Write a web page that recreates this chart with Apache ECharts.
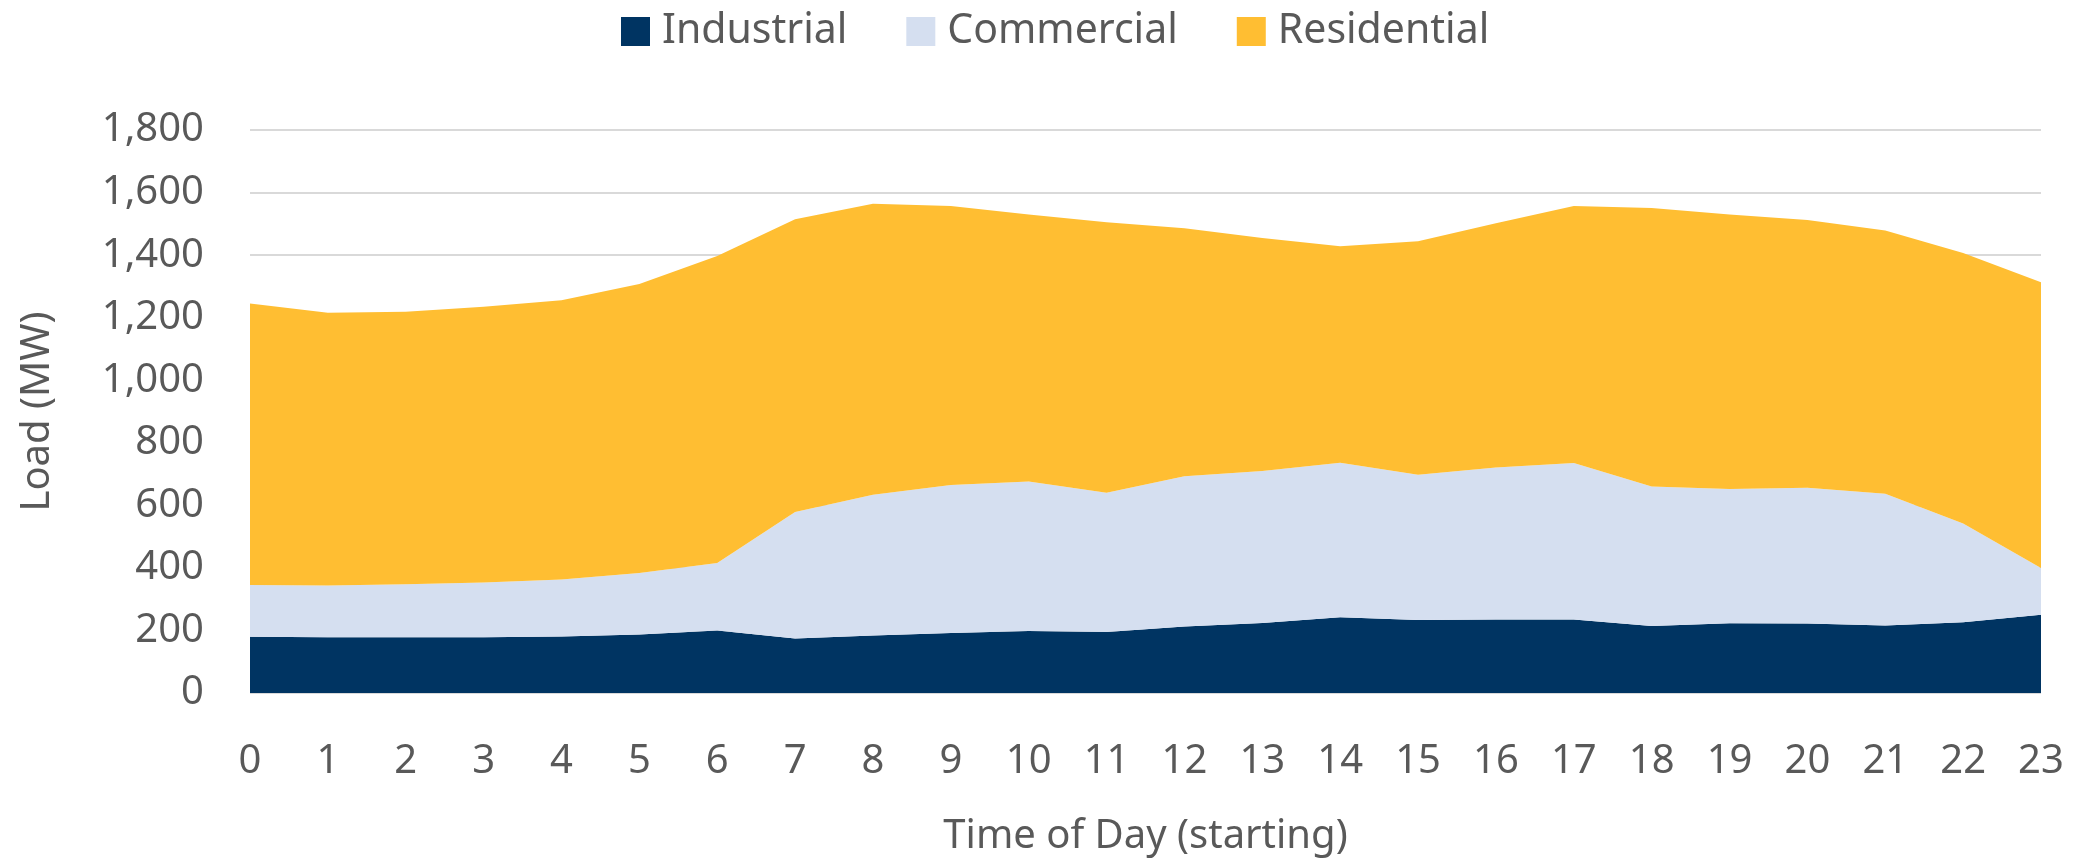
<!DOCTYPE html>
<html>
<head>
<meta charset="utf-8">
<script src="https://cdn.jsdelivr.net/npm/echarts@6/dist/echarts.min.js"></script>
<style>
  html, body { margin: 0; padding: 0; background: #fff; }
  #chart { width: 2077px; height: 862px; }
</style>
</head>
<body>
<div id="chart"></div>
<script>
// hours 0..23
var hours = ['0','1','2','3','4','5','6','7','8','9','10','11','12','13','14','15','16','17','18','19','20','21','22','23'];

// load per sector (MW), stacked
var industrial  = [180,178,178,178,181,187,200,174,184,192,198,195,213,224,242,233,235,235,214,223,222,216,226,250];
var commercial  = [165,166,170,175,182,197,216,405,450,473,478,445,480,486,494,465,486,500,446,429,434,421,316,150];
var residential = [900,872,871,882,893,924,981,936,930,892,854,865,793,745,692,746,781,822,891,878,856,842,865,913];

var yTicks = [0, 200, 400, 600, 800, 1000, 1200, 1400, 1600, 1800];

var textColor = '#595959';
var font = 'Noto Sans';

function area(name, data, color) {
  return {
    name: name,
    type: 'line',
    stack: 'load',
    data: data,
    symbol: 'none',
    lineStyle: { width: 0 },
    areaStyle: { color: color, opacity: 1 },
    itemStyle: { color: color }
  };
}

var chart = echarts.init(document.getElementById('chart'));
chart.setOption({
  animation: false,
  textStyle: { fontFamily: font },
  legend: {
    top: 6,
    left: 616,
    itemWidth: 29,
    itemHeight: 29,
    itemGap: 59,
    icon: 'rect',
    textStyle: { fontSize: 41, color: textColor, fontFamily: font, padding: [0, 0, 0, 7] }
  },
  grid: { left: 250, right: 36, top: 130, bottom: 160 },
  xAxis: {
    type: 'category',
    data: hours,
    boundaryGap: false,
    name: 'Time of Day (starting)',
    nameLocation: 'middle',
    nameGap: 124,
    nameTextStyle: { fontSize: 40, color: textColor, fontFamily: font },
    axisLine: { show: false },
    axisTick: { show: false },
    axisLabel: { fontSize: 40, color: textColor, margin: 49, fontFamily: font }
  },
  yAxis: {
    type: 'value',
    min: 0,
    max: 1800,
    interval: 200,
    name: 'Load (MW)',
    nameLocation: 'middle',
    nameGap: 192,
    nameTextStyle: { fontSize: 40, color: textColor, fontFamily: font },
    axisLine: { show: false },
    axisTick: { show: false },
    axisLabel: {
      fontSize: 40, color: textColor, margin: 46, fontFamily: font,
      formatter: function (v) { return yTicks.indexOf(v) >= 0 ? v.toLocaleString('en-US') : ''; }
    },
    splitLine: { lineStyle: { color: '#d9d9d9', width: 2 } }
  },
  series: [
    area('Industrial', industrial, '#003462'),
    area('Commercial', commercial, '#d5dff0'),
    area('Residential', residential, '#ffbe32')
  ]
});
</script>
</body>
</html>
